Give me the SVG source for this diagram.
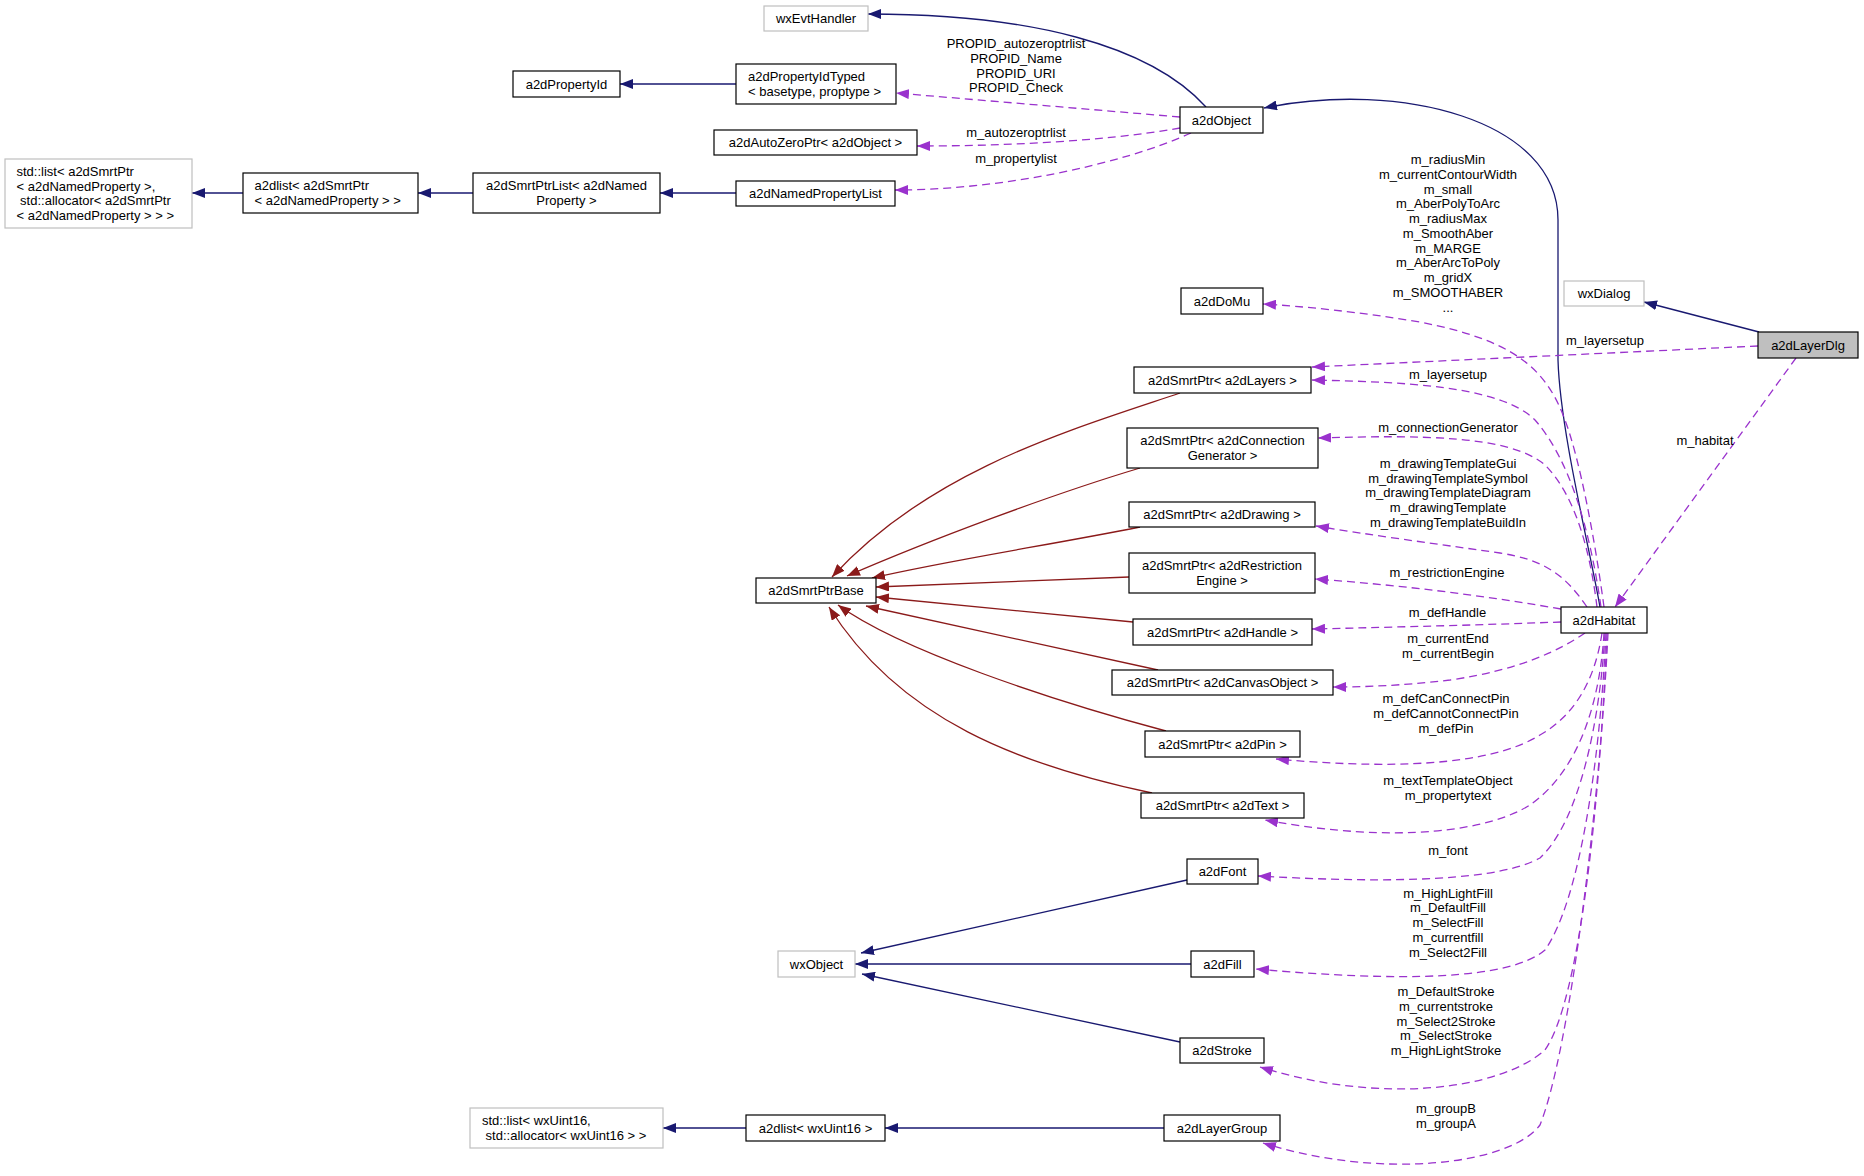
<svg xmlns="http://www.w3.org/2000/svg" width="1864" height="1176" viewBox="0 0 1864 1176">
<style>
text{font-family:"Liberation Sans",Arial,Helvetica,sans-serif;font-size:13px;fill:#000}
.m{text-anchor:middle}
.node rect{fill:#fff;stroke:#000;stroke-width:1.2}
.node.gray rect{stroke:#bfbfbf}
.node.sel rect{fill:#bfbfbf}
.e{fill:none;stroke-width:1.3}
.nv{stroke:#191970}
.rd{stroke:#8b1a1a}
.pu{stroke:#9a32cd;stroke-dasharray:8,5}
</style>
<defs>
<marker id="an" markerUnits="userSpaceOnUse" markerWidth="14" markerHeight="10" refX="13" refY="5" orient="auto"><path d="M0,0 L13,5 L0,10 z" fill="#191970"/></marker>
<marker id="ar" markerUnits="userSpaceOnUse" markerWidth="14" markerHeight="10" refX="13" refY="5" orient="auto"><path d="M0,0 L13,5 L0,10 z" fill="#8b1a1a"/></marker>
<marker id="ap" markerUnits="userSpaceOnUse" markerWidth="14" markerHeight="10" refX="13" refY="5" orient="auto"><path d="M0,0 L13,5 L0,10 z" fill="#9a32cd"/></marker>
</defs>
<rect width="1864" height="1176" fill="#fff"/>

<g id="edges">
<!-- inheritance (navy) -->
<path class="e nv" marker-end="url(#an)" d="M1206,107 C1150,45 1030,14 868,14"/>
<path class="e nv" marker-end="url(#an)" d="M736,84 L620,84"/>
<path class="e nv" marker-end="url(#an)" d="M736,193 L660,193"/>
<path class="e nv" marker-end="url(#an)" d="M473,193 L418,193"/>
<path class="e nv" marker-end="url(#an)" d="M243,193 L192,193"/>
<path class="e nv" marker-end="url(#an)" d="M1600,607 C1590,550 1560,430 1558,360 L1558,220 C1558,120 1400,80 1264,108"/>
<path class="e nv" marker-end="url(#an)" d="M1759,332 L1644,302"/>
<path class="e nv" marker-end="url(#an)" d="M1187,880 L861,953"/>
<path class="e nv" marker-end="url(#an)" d="M1191,964 L855,964"/>
<path class="e nv" marker-end="url(#an)" d="M1180,1042 L862,974"/>
<path class="e nv" marker-end="url(#an)" d="M1164,1128 L885,1128"/>
<path class="e nv" marker-end="url(#an)" d="M746,1128 L663,1128"/>
<!-- inheritance to a2dSmrtPtrBase (dark red) -->
<path class="e rd" marker-end="url(#ar)" d="M1180,393 C1070,430 930,470 832,577"/>
<path class="e rd" marker-end="url(#ar)" d="M1140,468 C1050,495 930,540 847,576"/>
<path class="e rd" marker-end="url(#ar)" d="M1140,527 C1050,545 950,560 872,578"/>
<path class="e rd" marker-end="url(#ar)" d="M1129,577 L876,587"/>
<path class="e rd" marker-end="url(#ar)" d="M1133,622 L876,597"/>
<path class="e rd" marker-end="url(#ar)" d="M1158,670 L866,606"/>
<path class="e rd" marker-end="url(#ar)" d="M1166,731 C1050,700 900,650 838,605"/>
<path class="e rd" marker-end="url(#ar)" d="M1152,793 C1020,765 900,720 829,607"/>
<!-- usage (purple dashed) -->
<path class="e pu" marker-end="url(#ap)" d="M1180,117 L896,93"/>
<path class="e pu" marker-end="url(#ap)" d="M1180,128 C1100,142 1000,146 917,146"/>
<path class="e pu" marker-end="url(#ap)" d="M1191,133 C1120,165 1000,190 895,190"/>
<path class="e pu" marker-end="url(#ap)" d="M1758,346 L1312,367"/>
<path class="e pu" marker-end="url(#ap)" d="M1796,358 L1615,607"/>
<path class="e pu" marker-end="url(#ap)" d="M1604,607 C1595,540 1580,460 1565,420 C1545,365 1510,340 1420,322 C1360,312 1300,306 1263,304"/>
<path class="e pu" marker-end="url(#ap)" d="M1601,607 C1590,530 1570,460 1535,420 C1500,385 1400,382 1312,380"/>
<path class="e pu" marker-end="url(#ap)" d="M1597,607 C1590,550 1575,495 1545,465 C1510,435 1420,435 1318,438"/>
<path class="e pu" marker-end="url(#ap)" d="M1587,607 C1565,575 1545,560 1500,553 C1430,543 1370,535 1316,526"/>
<path class="e pu" marker-end="url(#ap)" d="M1561,609 C1480,595 1400,585 1315,579"/>
<path class="e pu" marker-end="url(#ap)" d="M1561,622 C1480,625 1400,627 1312,629"/>
<path class="e pu" marker-end="url(#ap)" d="M1585,633 C1560,650 1520,670 1450,680 C1400,686 1360,687 1333,687"/>
<path class="e pu" marker-end="url(#ap)" d="M1602,633 C1595,680 1575,715 1540,735 C1500,760 1420,772 1276,759"/>
<path class="e pu" marker-end="url(#ap)" d="M1604,633 C1600,700 1580,770 1530,805 C1490,830 1400,845 1265,820"/>
<path class="e pu" marker-end="url(#ap)" d="M1605,633 C1600,720 1580,820 1540,858 C1500,880 1400,884 1258,876"/>
<path class="e pu" marker-end="url(#ap)" d="M1606,633 C1600,760 1580,900 1545,950 C1510,980 1400,982 1256,969"/>
<path class="e pu" marker-end="url(#ap)" d="M1607,633 C1600,800 1580,1000 1545,1050 C1500,1090 1380,1105 1260,1067"/>
<path class="e pu" marker-end="url(#ap)" d="M1608,633 C1600,800 1570,1050 1540,1125 C1510,1165 1380,1180 1263,1143"/>
</g>

<g id="edge-labels">
<text class="m" x="1016" y="48.2">PROPID_autozeroptrlist</text>
<text class="m" x="1016" y="62.9">PROPID_Name</text>
<text class="m" x="1016" y="77.6">PROPID_URI</text>
<text class="m" x="1016" y="92.3">PROPID_Check</text>
<text class="m" x="1016" y="137.2">m_autozeroptrlist</text>
<text class="m" x="1016" y="163.2">m_propertylist</text>
<text class="m" x="1448" y="164">m_radiusMin</text>
<text class="m" x="1448" y="178.75">m_currentContourWidth</text>
<text class="m" x="1448" y="193.5">m_small</text>
<text class="m" x="1448" y="208.25">m_AberPolyToArc</text>
<text class="m" x="1448" y="223">m_radiusMax</text>
<text class="m" x="1448" y="237.75">m_SmoothAber</text>
<text class="m" x="1448" y="252.5">m_MARGE</text>
<text class="m" x="1448" y="267.25">m_AberArcToPoly</text>
<text class="m" x="1448" y="282">m_gridX</text>
<text class="m" x="1448" y="296.75">m_SMOOTHABER</text>
<text class="m" x="1448" y="311.5">...</text>
<text class="m" x="1605" y="345.2">m_layersetup</text>
<text class="m" x="1448" y="379">m_layersetup</text>
<text class="m" x="1705" y="445.2">m_habitat</text>
<text class="m" x="1448" y="432.2">m_connectionGenerator</text>
<text class="m" x="1448" y="467.8">m_drawingTemplateGui</text>
<text class="m" x="1448" y="482.55">m_drawingTemplateSymbol</text>
<text class="m" x="1448" y="497.3">m_drawingTemplateDiagram</text>
<text class="m" x="1448" y="512.05">m_drawingTemplate</text>
<text class="m" x="1448" y="526.8">m_drawingTemplateBuildIn</text>
<text class="m" x="1447" y="577.2">m_restrictionEngine</text>
<text class="m" x="1447.5" y="617.2">m_defHandle</text>
<text class="m" x="1448" y="643.2">m_currentEnd</text>
<text class="m" x="1448" y="657.9">m_currentBegin</text>
<text class="m" x="1446" y="703.2">m_defCanConnectPin</text>
<text class="m" x="1446" y="717.9">m_defCannotConnectPin</text>
<text class="m" x="1446" y="732.6">m_defPin</text>
<text class="m" x="1448" y="785.2">m_textTemplateObject</text>
<text class="m" x="1448" y="799.9">m_propertytext</text>
<text class="m" x="1448" y="855.2">m_font</text>
<text class="m" x="1448" y="897.5">m_HighLightFill</text>
<text class="m" x="1448" y="912.25">m_DefaultFill</text>
<text class="m" x="1448" y="927">m_SelectFill</text>
<text class="m" x="1448" y="941.75">m_currentfill</text>
<text class="m" x="1448" y="956.5">m_Select2Fill</text>
<text class="m" x="1446" y="996.2">m_DefaultStroke</text>
<text class="m" x="1446" y="1010.95">m_currentstroke</text>
<text class="m" x="1446" y="1025.7">m_Select2Stroke</text>
<text class="m" x="1446" y="1040.45">m_SelectStroke</text>
<text class="m" x="1446" y="1055.2">m_HighLightStroke</text>
<text class="m" x="1446" y="1112.8">m_groupB</text>
<text class="m" x="1446" y="1127.55">m_groupA</text>
</g>

<g id="n-wxEvtHandler" class="node gray"><rect x="764" y="6" width="104" height="25"/><text class="m" x="816" y="23">wxEvtHandler</text></g>
<g id="n-a2dPropertyId" class="node"><rect x="513" y="71" width="107" height="26"/><text class="m" x="566.5" y="88.5">a2dPropertyId</text></g>
<g id="n-a2dPropertyIdTyped" class="node"><rect x="736" y="64" width="160" height="40"/><text x="748" y="81">a2dPropertyIdTyped</text><text x="748" y="95.7">&lt; basetype, proptype &gt;</text></g>
<g id="n-a2dAutoZeroPtr" class="node"><rect x="714" y="130" width="203" height="25"/><text class="m" x="815.5" y="147">a2dAutoZeroPtr&lt; a2dObject &gt;</text></g>
<g id="n-a2dObject" class="node"><rect x="1180" y="107" width="83" height="26"/><text class="m" x="1221.5" y="124.5">a2dObject</text></g>
<g id="n-stdlistNamedProperty" class="node gray"><rect x="5" y="159" width="187" height="69"/><text x="16.5" y="176">std::list&lt; a2dSmrtPtr</text><text x="16.5" y="190.7">&lt; a2dNamedProperty &gt;,</text><text x="16.5" y="205.4" xml:space="preserve"> std::allocator&lt; a2dSmrtPtr</text><text x="16.5" y="220.1">&lt; a2dNamedProperty &gt; &gt; &gt;</text></g>
<g id="n-a2dlistSmrtPtr" class="node"><rect x="243" y="173" width="175" height="40"/><text x="254.5" y="190.2">a2dlist&lt; a2dSmrtPtr</text><text x="254.5" y="204.9">&lt; a2dNamedProperty &gt; &gt;</text></g>
<g id="n-a2dSmrtPtrList" class="node"><rect x="473" y="173" width="187" height="40"/><text class="m" x="566.5" y="190.2">a2dSmrtPtrList&lt; a2dNamed</text><text class="m" x="566.5" y="204.9">Property &gt;</text></g>
<g id="n-a2dNamedPropertyList" class="node"><rect x="736" y="181" width="159" height="25"/><text class="m" x="815.5" y="198">a2dNamedPropertyList</text></g>
<g id="n-a2dDoMu" class="node"><rect x="1181" y="288" width="82" height="26"/><text class="m" x="1222" y="305.5">a2dDoMu</text></g>
<g id="n-wxDialog" class="node gray"><rect x="1564" y="281" width="80" height="25"/><text class="m" x="1604" y="298">wxDialog</text></g>
<g id="n-a2dLayerDlg" class="node sel"><rect x="1758" y="332" width="100" height="26"/><text class="m" x="1808" y="349.5">a2dLayerDlg</text></g>
<g id="n-SmrtPtrLayers" class="node"><rect x="1134" y="367" width="177" height="26"/><text class="m" x="1222.5" y="384.5">a2dSmrtPtr&lt; a2dLayers &gt;</text></g>
<g id="n-SmrtPtrConnGen" class="node"><rect x="1127" y="428" width="191" height="40"/><text class="m" x="1222.5" y="445.2">a2dSmrtPtr&lt; a2dConnection</text><text class="m" x="1222.5" y="459.9">Generator &gt;</text></g>
<g id="n-SmrtPtrDrawing" class="node"><rect x="1129" y="502" width="186" height="25"/><text class="m" x="1222" y="519">a2dSmrtPtr&lt; a2dDrawing &gt;</text></g>
<g id="n-a2dSmrtPtrBase" class="node"><rect x="756" y="578" width="120" height="25"/><text class="m" x="816" y="595">a2dSmrtPtrBase</text></g>
<g id="n-SmrtPtrRestriction" class="node"><rect x="1129" y="553" width="186" height="40"/><text class="m" x="1222" y="570.2">a2dSmrtPtr&lt; a2dRestriction</text><text class="m" x="1222" y="584.9">Engine &gt;</text></g>
<g id="n-SmrtPtrHandle" class="node"><rect x="1133" y="619" width="179" height="26"/><text class="m" x="1222.5" y="636.5">a2dSmrtPtr&lt; a2dHandle &gt;</text></g>
<g id="n-a2dHabitat" class="node"><rect x="1561" y="607" width="86" height="26"/><text class="m" x="1604" y="624.5">a2dHabitat</text></g>
<g id="n-SmrtPtrCanvasObject" class="node"><rect x="1112" y="670" width="221" height="25"/><text class="m" x="1222.5" y="687">a2dSmrtPtr&lt; a2dCanvasObject &gt;</text></g>
<g id="n-SmrtPtrPin" class="node"><rect x="1145" y="731" width="155" height="26"/><text class="m" x="1222.5" y="748.5">a2dSmrtPtr&lt; a2dPin &gt;</text></g>
<g id="n-SmrtPtrText" class="node"><rect x="1141" y="793" width="163" height="25"/><text class="m" x="1222.5" y="810">a2dSmrtPtr&lt; a2dText &gt;</text></g>
<g id="n-a2dFont" class="node"><rect x="1187" y="859" width="71" height="25"/><text class="m" x="1222.5" y="876">a2dFont</text></g>
<g id="n-wxObject" class="node gray"><rect x="778" y="951" width="77" height="26"/><text class="m" x="816.5" y="968.5">wxObject</text></g>
<g id="n-a2dFill" class="node"><rect x="1191" y="951" width="63" height="26"/><text class="m" x="1222.5" y="968.5">a2dFill</text></g>
<g id="n-a2dStroke" class="node"><rect x="1180" y="1038" width="84" height="25"/><text class="m" x="1222" y="1055">a2dStroke</text></g>
<g id="n-stdlistUint16" class="node gray"><rect x="470" y="1108" width="193" height="40"/><text x="482" y="1125.2">std::list&lt; wxUint16,</text><text x="482" y="1139.9" xml:space="preserve"> std::allocator&lt; wxUint16 &gt; &gt;</text></g>
<g id="n-a2dlistUint16" class="node"><rect x="746" y="1115" width="139" height="26"/><text class="m" x="815.5" y="1132.5">a2dlist&lt; wxUint16 &gt;</text></g>
<g id="n-a2dLayerGroup" class="node"><rect x="1164" y="1115" width="116" height="26"/><text class="m" x="1222" y="1132.5">a2dLayerGroup</text></g>
</svg>
